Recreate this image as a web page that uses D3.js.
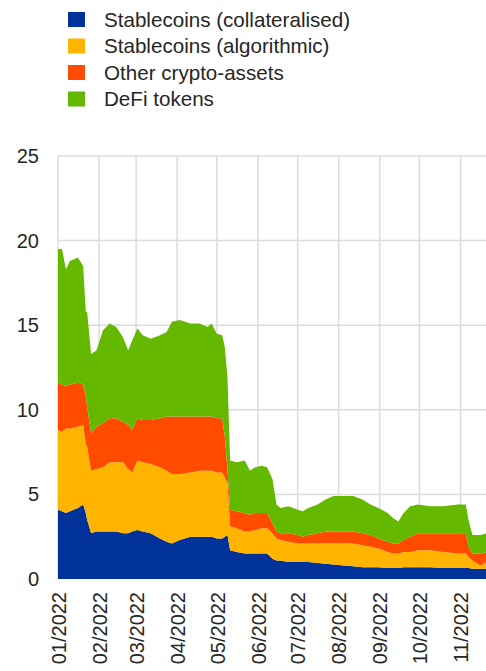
<!DOCTYPE html>
<html>
<head>
<meta charset="utf-8">
<script src="https://cdn.jsdelivr.net/npm/d3@7"></script>
<style>
  body { margin: 0; background: #fff; }
  svg { display: block; font-family: "Liberation Sans", Arial, sans-serif; }
</style>
</head>
<body>
<div id="container"></div>
<script>
/* DATA (EUR bn) */
const dates = ["2022-01-01","2022-01-04","2022-01-07","2022-01-10","2022-01-16","2022-01-20","2022-01-22","2022-01-23",
  "2022-01-26","2022-01-30","2022-02-04","2022-02-09","2022-02-14","2022-02-19","2022-02-23","2022-02-26",
  "2022-03-02","2022-03-06","2022-03-12","2022-03-19","2022-03-24","2022-03-28","2022-04-03","2022-04-11",
  "2022-04-18","2022-04-24","2022-04-27","2022-05-01","2022-05-05","2022-05-07","2022-05-09","2022-05-11",
  "2022-05-16","2022-05-22","2022-05-26","2022-05-30","2022-06-04","2022-06-08","2022-06-12","2022-06-15",
  "2022-06-18","2022-06-24","2022-07-01","2022-07-05","2022-07-09","2022-07-16","2022-07-22","2022-07-28",
  "2022-08-05","2022-08-12","2022-08-19","2022-08-25","2022-08-31","2022-09-07","2022-09-11","2022-09-15",
  "2022-09-19","2022-09-24","2022-09-30","2022-10-09","2022-10-19","2022-10-30","2022-11-05","2022-11-07",
  "2022-11-10","2022-11-16","2022-11-21"]

const collateralised = [4.1,4.0,3.9,4.0,4.2,4.4,3.9,3.5, 2.7,2.8,2.8,2.8,2.8,2.7,2.7,2.8,
  2.9,2.8,2.7,2.4,2.2,2.1,2.3,2.5, 2.5,2.5,2.5,2.4,2.4,2.5,2.6,1.7,
  1.6,1.5,1.5,1.5,1.5,1.5,1.2,1.1, 1.1,1.0,1.0,1.0,1.0,0.95,0.9,0.85,
  0.8,0.75,0.7,0.7,0.7,0.65,0.65,0.65, 0.7,0.7,0.7,0.7,0.65,0.65,0.65,0.65,
  0.6,0.6,0.6]

const algorithmic = [4.7,4.7,5.0,4.9,4.8,4.7,4.1,4.3, 3.7,3.7,3.8,4.1,4.1,4.2,3.8,3.5,
  4.1,4.1,4.1,4.2,4.2,4.1,3.9,3.8, 3.9,3.9,3.9,3.9,3.9,3.5,3.1,1.4,
  1.4,1.3,1.3,1.4,1.5,1.5,1.5,1.3, 1.2,1.2,1.1,1.1,1.1,1.15,1.2,1.25,
  1.3,1.35,1.3,1.2,1.1,0.95,0.85,0.85, 0.9,0.9,1.0,1.0,0.95,0.85,0.85,0.65,
  0.5,0.2,0.4]

const otherCrypto = [2.8,2.8,2.5,2.6,2.6,2.4,2.8,2.4, 2.2,2.5,2.6,2.6,2.6,2.4,2.6,2.5,
  2.5,2.5,2.6,2.9,3.2,3.4,3.4,3.3, 3.2,3.2,3.2,3.2,3.2,2.4,0.8,1.0,
  1.0,1.1,1.0,1.0,0.9,0.9,0.6,0.4, 0.4,0.5,0.5,0.4,0.5,0.6,0.7,0.7,
  0.7,0.7,0.7,0.7,0.6,0.6,0.6,0.6, 0.7,0.9,1.0,1.0,1.1,1.2,1.2,0.6,
  0.4,0.7,0.6]

const defiTokens = [7.9,8.0,6.9,7.3,7.4,7.0,5.0,5.6, 4.7,4.5,5.5,5.6,5.4,5.0,4.4,5.3,
  5.3,5.0,4.8,4.9,5.0,5.6,5.7,5.5, 5.5,5.3,5.5,5.0,4.9,5.3,5.4,2.9,
  2.9,3.1,2.6,2.7,2.8,2.7,2.6,1.6, 1.5,1.6,1.5,1.5,1.6,1.7,1.9,2.1,
  2.1,2.1,2.0,1.8,1.8,1.7,1.5,1.3, 1.6,1.8,1.7,1.6,1.6,1.7,1.7,1.6,
  1.1,1.1,1.1]

const seriesKeys = ["collateralised", "algorithmic", "other", "defi"]
const seriesLabels = ["Stablecoins (collateralised)", "Stablecoins (algorithmic)", "Other crypto-assets", "DeFi tokens"]
const seriesColors = ["#003299", "#FFB400", "#FF4B00", "#65B800"]
const yTicks = [0, 5, 10, 15, 20, 25]
const monthTicks = ["2022-01-01","2022-02-01","2022-03-01","2022-04-01","2022-05-01","2022-06-01",
  "2022-07-01","2022-08-01","2022-09-01","2022-10-01","2022-11-01"]

/* CONSTANTS */
const width = 486, height = 671
const plotLeft = 58, plotRight = 487, plotTop = 156, plotBottom = 579
const textColor = "#262626"

const parse = d3.timeParse("%Y-%m-%d")
const data = dates.map((d, i) => ({
  date: parse(d),
  collateralised: collateralised[i],
  algorithmic: algorithmic[i],
  other: otherCrypto[i],
  defi: defiTokens[i]
}))

// SCALES
const xScale = d3.scaleTime()
  .domain([parse("2022-01-01"), parse("2022-11-21")])
  .range([plotLeft, plotRight])

const yScale = d3.scaleLinear()
  .domain([0, 25])
  .range([plotBottom, plotTop])

const svg = d3.select("#container")
  .append("svg")
  .attr("width", width)
  .attr("height", height)

// GRID
svg.append("g")
  .selectAll("line")
  .data(yTicks.slice(1))
  .join("line")
  .attr("x1", plotLeft).attr("x2", plotRight)
  .attr("y1", d => yScale(d)).attr("y2", d => yScale(d))
  .attr("stroke", "#dcdcdc")
  .attr("stroke-width", 1.5)

svg.append("g")
  .selectAll("line")
  .data(monthTicks.map(parse))
  .join("line")
  .attr("x1", d => xScale(d)).attr("x2", d => xScale(d))
  .attr("y1", yScale(25)).attr("y2", yScale(0))
  .attr("stroke", "#dcdcdc")
  .attr("stroke-width", 1.5)

// STACKED AREAS
const stack = d3.stack().keys(seriesKeys)
const layers = stack(data)

const areaGen = d3.area()
  .x(d => xScale(d.data.date))
  .y0(d => yScale(d[0]))
  .y1(d => yScale(d[1]))

svg.selectAll("path.layer")
  .data(layers)
  .join("path")
  .attr("class", "layer")
  .attr("fill", (d, i) => seriesColors[i])
  .attr("d", areaGen)

// AXES
const yAxis = d3.axisLeft(yScale)
  .tickValues(yTicks)
  .tickSize(0)
  .tickPadding(19)

svg.append("g")
  .attr("transform", `translate(${plotLeft}, 0)`)
  .call(yAxis)
  .call(g => g.select(".domain").remove())
  .selectAll("text")
  .attr("fill", textColor)
  .style("font-size", "20px")
  .style("font-family", "'Liberation Sans', Arial, sans-serif")

const xAxis = d3.axisBottom(xScale)
  .tickValues(monthTicks.map(parse))
  .tickFormat(d3.timeFormat("%m/%Y"))
  .tickSize(0)

svg.append("g")
  .attr("transform", `translate(0, ${plotBottom})`)
  .call(xAxis)
  .call(g => g.select(".domain").remove())
  .selectAll("text")
  .attr("transform", "rotate(-90)")
  .attr("text-anchor", "end")
  .attr("x", -13)
  .attr("y", 0)
  .attr("dy", "0.36em")
  .attr("fill", textColor)
  .style("font-size", "20px")
  .style("font-family", "'Liberation Sans', Arial, sans-serif")

// LEGEND
const legend = svg.append("g")
  .selectAll("g")
  .data(seriesLabels)
  .join("g")
  .attr("transform", (d, i) => `translate(68, ${12 + i * 26.5})`)

legend.append("rect")
  .attr("width", 17)
  .attr("height", 15)
  .attr("fill", (d, i) => seriesColors[i])

legend.append("text")
  .attr("x", 36)
  .attr("y", 7.5)
  .attr("dy", "0.36em")
  .attr("fill", textColor)
  .style("font-size", "20.6px")
  .text(d => d)
</script>
</body>
</html>
